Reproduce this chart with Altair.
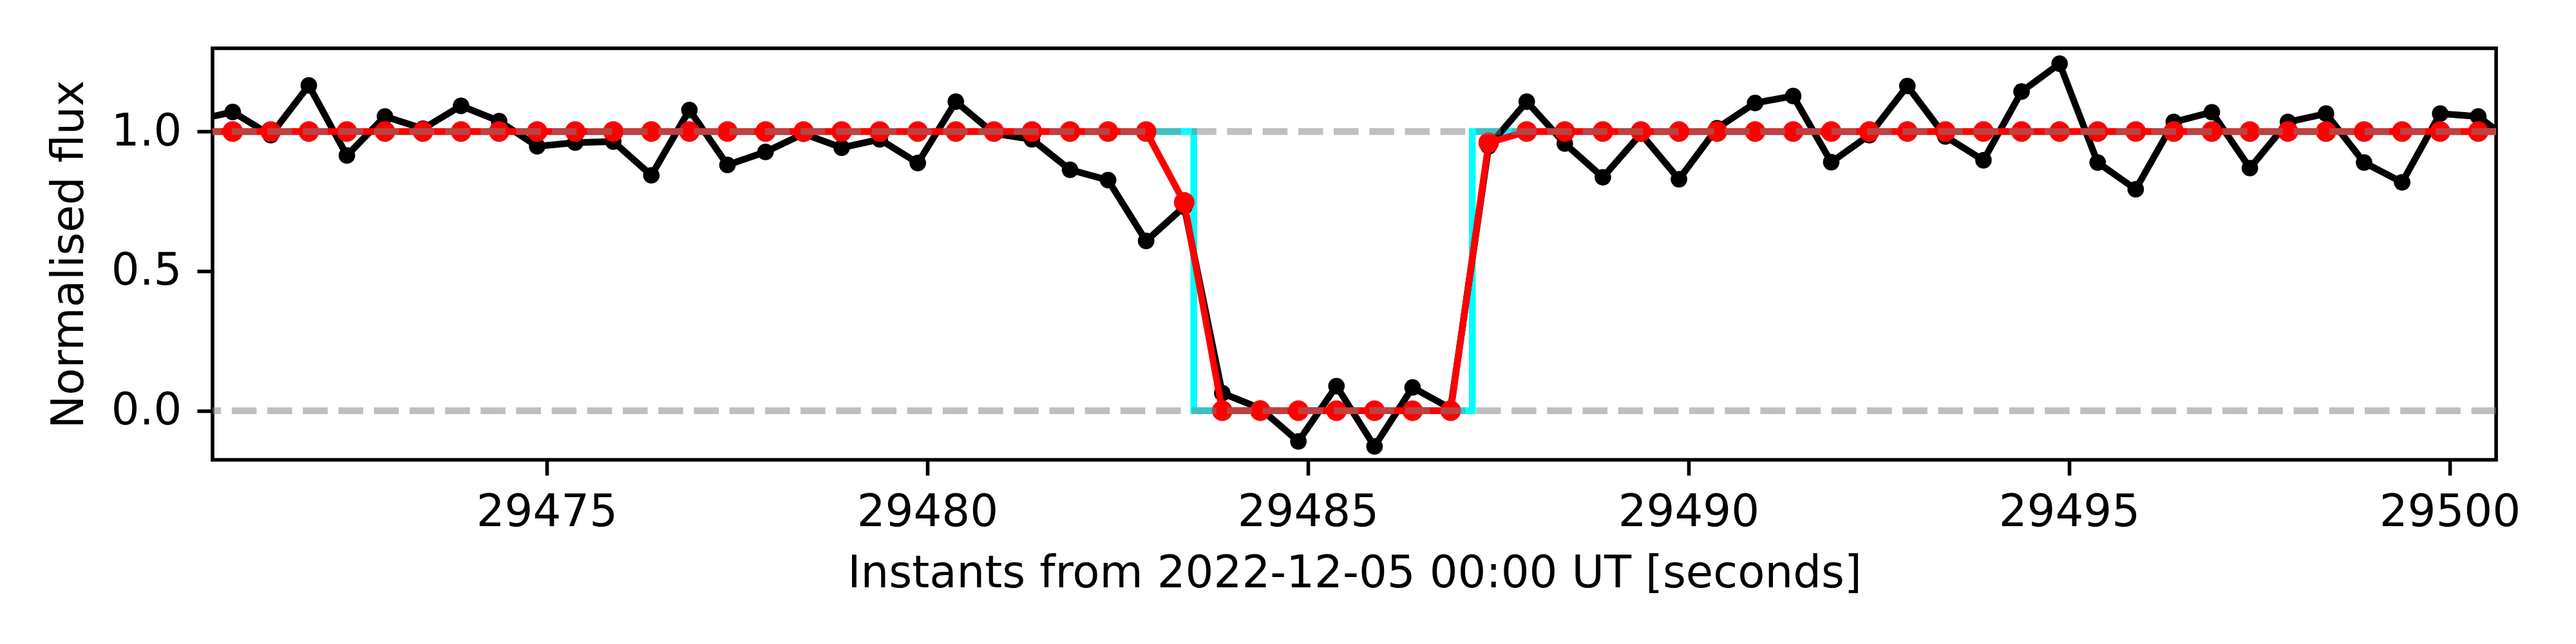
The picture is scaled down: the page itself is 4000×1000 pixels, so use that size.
import altair as alt
import pandas as pd

# sample instants [s]
times = [
    29470.375, 29470.875, 29471.375, 29471.875, 29472.375, 29472.875, 29473.375, 29473.875, 29474.375, 29474.875,
    29475.375, 29475.875, 29476.375, 29476.875, 29477.375, 29477.875, 29478.375, 29478.875, 29479.375, 29479.875,
    29480.375, 29480.875, 29481.375, 29481.875, 29482.375, 29482.875, 29483.375, 29483.875, 29484.375, 29484.875,
    29485.375, 29485.875, 29486.375, 29486.875, 29487.375, 29487.875, 29488.375, 29488.875, 29489.375, 29489.875,
    29490.375, 29490.875, 29491.375, 29491.875, 29492.375, 29492.875, 29493.375, 29493.875, 29494.375, 29494.875,
    29495.375, 29495.875, 29496.375, 29496.875, 29497.375, 29497.875, 29498.375, 29498.875, 29499.375, 29499.875,
    29500.375, 29500.875,
]
# observed normalised flux (black)
flux = [
    1.040, 1.070, 0.987, 1.165, 0.914, 1.054, 1.010, 1.092, 1.037, 0.947,
    0.960, 0.964, 0.843, 1.077, 0.880, 0.927, 0.992, 0.942, 0.972, 0.887,
    1.107, 0.993, 0.972, 0.863, 0.826, 0.608, 0.731, 0.063, 0.008, -0.110,
    0.088, -0.128, 0.083, 0.008, 0.947, 1.107, 0.957, 0.836, 0.992, 0.829,
    1.012, 1.102, 1.127, 0.890, 0.987, 1.163, 0.982, 0.897, 1.143, 1.243,
    0.889, 0.793, 1.034, 1.069, 0.869, 1.034, 1.064, 0.889, 0.818, 1.064,
    1.054, 0.950,
]
# model flux (red)
model = [
    1.0, 1.0, 1.0, 1.0, 1.0, 1.0, 1.0, 1.0, 1.0, 1.0,
    1.0, 1.0, 1.0, 1.0, 1.0, 1.0, 1.0, 1.0, 1.0, 1.0,
    1.0, 1.0, 1.0, 1.0, 1.0, 1.0, 0.746, 0.0, 0.0, 0.0,
    0.0, 0.0, 0.0, 0.0, 0.960, 1.0, 1.0, 1.0, 1.0, 1.0,
    1.0, 1.0, 1.0, 1.0, 1.0, 1.0, 1.0, 1.0, 1.0, 1.0,
    1.0, 1.0, 1.0, 1.0, 1.0, 1.0, 1.0, 1.0, 1.0, 1.0,
    1.0, 1.0,
]
# geometric occultation (cyan step)
step_t = [29470.0, 29483.50, 29483.50, 29487.16, 29487.16, 29501.0]
step_v = [1.0, 1.0, 0.0, 0.0, 1.0, 1.0]
ref_levels = [0.0, 1.0]
x_ticks = [29475, 29480, 29485, 29490, 29495, 29500]
y_ticks = [0.0, 0.5, 1.0]

obs = pd.DataFrame({"t": times, "v": flux})
mod = pd.DataFrame({"t": times, "v": model})
step = pd.DataFrame({"t": step_t, "v": step_v, "o": list(range(len(step_t)))})
refs = pd.DataFrame({"v": ref_levels})

X = alt.X("t:Q",
          scale=alt.Scale(domain=[29470.61, 29500.61], nice=False, zero=False),
          axis=alt.Axis(values=x_ticks, format="d",
                        title="Instants from 2022-12-05 00:00 UT [seconds]",
                        labelPadding=23, titlePadding=26, labelLimit=0))
Y = alt.Y("v:Q",
          scale=alt.Scale(domain=[-0.176, 1.298], nice=False, zero=False),
          axis=alt.Axis(values=y_ticks, format=".1f", title="Normalised flux",
                        labelPadding=24, titlePadding=30, labelLimit=0))

LW = 10.4

step_line = alt.Chart(step).mark_line(color="#00FFFF", strokeWidth=LW, clip=True).encode(
    x=X, y=Y, order="o:Q")
obs_line = alt.Chart(obs).mark_line(color="black", strokeWidth=LW, clip=True).encode(x=X, y=Y)
obs_pts = alt.Chart(obs).mark_circle(color="black", size=660, opacity=1, clip=True).encode(x=X, y=Y)
mod_line = alt.Chart(mod).mark_line(color="#FF0000", strokeWidth=LW, clip=True).encode(x=X, y=Y)
mod_pts = alt.Chart(mod).mark_circle(color="#FF0000", size=1018, opacity=1, clip=True).encode(x=X, y=Y)
ref_rules = alt.Chart(refs).mark_rule(color="#808080", strokeOpacity=0.5, strokeWidth=LW,
                                      strokeDash=[38.5, 16.7]).encode(y=Y)

chart = alt.layer(step_line, obs_line, obs_pts, mod_line, mod_pts, ref_rules).properties(
    width=3546, height=639,
    autosize=alt.AutoSizeParams(type="none"),
    padding={"left": 322, "top": 67, "right": 110, "bottom": 250},
    background="white",
).configure_view(
    stroke="black", strokeWidth=5.6
).configure_axis(
    grid=False, domain=False,
    tickColor="black", tickWidth=5.6, tickSize=24,
    labelFont="DejaVu Sans", labelFontSize=69, labelColor="black",
    titleFont="DejaVu Sans", titleFontSize=69, titleFontWeight="normal", titleColor="black",
)

chart.save("out.html", embed_options={"renderer": "svg", "actions": False})
